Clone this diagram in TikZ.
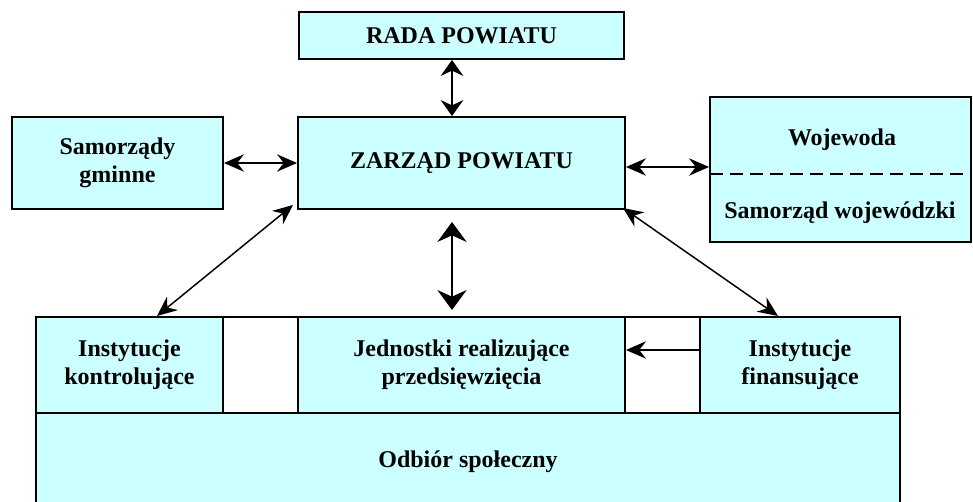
\documentclass[tikz,border=0pt]{standalone}
\usepackage{fontspec}
\setmainfont{Liberation Serif}
\usetikzlibrary{arrows.meta}
\definecolor{boxcyan}{HTML}{CCFFFF}
\begin{document}
\begin{tikzpicture}[x=0.75pt,y=-0.75pt,
  box/.style={draw=black,line width=1.4pt,fill=boxcyan,rectangle,inner sep=0pt,
    align=center,font=\fontsize{18}{21}\selectfont\bfseries},
  gapbox/.style={draw=black,line width=1.4pt,fill=white,rectangle,inner sep=0pt},
  lbl/.style={font=\fontsize{18}{21}\selectfont\bfseries,inner sep=0pt,align=center},
  tipS/.tip={Stealth[length=15pt,width=13pt,inset=5pt]},
  tipR/.tip={Stealth[length=12pt,width=17pt,inset=4pt]},
  tipM/.tip={Stealth[length=15pt,width=22pt,inset=5pt]},
  conn/.style={line width=1.1pt,{tipS}-{tipS}},
  connR/.style={line width=1.3pt,{tipR}-{tipR}},
  connM/.style={line width=1pt,{tipM}-{tipM}},
]
\useasboundingbox (0,0) rectangle (973,502);
\clip (0,0) rectangle (973,502);

% top boxes
\node[box,minimum width=243.75pt,minimum height=35.25pt] (rada) at (461.5,35.5) {RADA POWIATU};
\node[box,minimum width=245.25pt,minimum height=69pt] (zarzad) at (461.5,163) {ZARZĄD POWIATU};
\node[box,minimum width=158.25pt,minimum height=69pt] (gmina) at (117.5,163) {Samorządy\\gminne};
\node[box,minimum width=195.75pt,minimum height=108.75pt] (woj) at (840.5,169.5) {};
\node[lbl] (wojt) at (842,140) {Wojewoda};
\node[lbl] (samwoj) at (840,213) {Samorząd wojewódzki};
\coordinate (dl) at (710,174);
\coordinate (dr) at (971,174);
\draw[line width=1.4pt,dash pattern=on 10pt off 5pt] (dl) -- (dr);

% bottom block
\node[box,minimum width=648pt,minimum height=73.5pt] (odbior) at (468,462) {Odbiór społeczny};
\node[box,minimum width=140.25pt,minimum height=72pt] (kontrol) at (129.5,365) {Instytucje\\kontrolujące};
\node[gapbox,minimum width=56.25pt,minimum height=72pt] (gap1) at (260.5,365) {};
\node[box,minimum width=245.25pt,minimum height=72pt] (jedn) at (461.5,365) {Jednostki realizujące\\przedsięwzięcia};
\node[gapbox,minimum width=56.25pt,minimum height=72pt] (gap2) at (662.5,365) {};
\node[box,minimum width=150pt,minimum height=72pt] (fin) at (800,365) {Instytucje\\finansujące};

% connectors
\coordinate (mx) at (452,0);
\draw[connR] (rada.south -| mx) -- (zarzad.north -| mx);
\draw[conn] (gmina.east) -- (zarzad.west);
\coordinate (wy) at (0,167);
\draw[conn] (zarzad.east |- wy) -- (woj.west |- wy);
\coordinate (zl) at (293,205);
\coordinate (kt) at (157,316);
\draw[conn] (zl) -- (kt);
\coordinate (zr) at (623,208);
\coordinate (ft) at (778,316);
\draw[conn] (zr) -- (ft);
\coordinate (m1) at (452,222);
\coordinate (m2) at (452,310);
\draw[connM] (m1) -- (m2);
\coordinate (fy) at (0,350);
\draw[line width=1.1pt,-{tipS}] (fin.west |- fy) -- (jedn.east |- fy);
\end{tikzpicture}
\end{document}
